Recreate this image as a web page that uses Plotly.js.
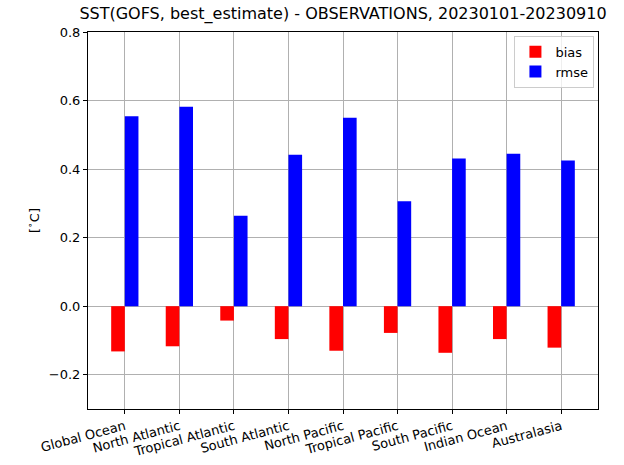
<!DOCTYPE html>
<html>
<head>
<meta charset="utf-8">
<script src="https://cdn.plot.ly/plotly-3.0.1.min.js"></script>
<style>html,body{margin:0;padding:0;background:#fff;}#chart{width:624px;height:465px;}</style>
</head>
<body>
<div id="chart"></div>
<script>
const regions = ["Global Ocean","North Atlantic","Tropical Atlantic","South Atlantic","North Pacific","Tropical Pacific","South Pacific","Indian Ocean","Australasia"];
const bias = [-0.132,-0.117,-0.042,-0.096,-0.130,-0.078,-0.136,-0.096,-0.121];
const rmse = [0.554,0.582,0.264,0.442,0.550,0.306,0.431,0.445,0.425];
const yTicks = [-0.2,0.0,0.2,0.4,0.6,0.8];
const yTickText = ["\u22120.2","0.0","0.2","0.4","0.6","0.8"];
const titleText = "SST(GOFS, best_estimate) - OBSERVATIONS, 20230101-20230910";

const xs = regions.map((_, i) => i);
const font = "DejaVu Sans, sans-serif";

const traces = [
  {type:"bar", name:"bias", x:xs, y:bias, width:0.25, offset:-0.25, marker:{color:"#ff0000", line:{width:0}}},
  {type:"bar", name:"rmse", x:xs, y:rmse, width:0.25, offset:0, marker:{color:"#0000ff", line:{width:0}}}
];

const layout = {
  width:624, height:465,
  margin:{l:88, r:26, t:32, b:56},
  paper_bgcolor:"#ffffff", plot_bgcolor:"#ffffff",
  font:{family:font, size:13, color:"#262626"},
  title:{text:titleText, font:{family:font, size:16, color:"#000"}, x:0.5, xref:"paper", xanchor:"center", y:1, yref:"container", yanchor:"top", pad:{t:8}},
  barmode:"overlay",
  showlegend:true,
  legend:{x:0.993, y:0.99, xanchor:"right", yanchor:"top", bgcolor:"rgba(255,255,255,0.8)", bordercolor:"#cccccc", borderwidth:1, font:{family:font, size:13, color:"#000"}, tracegroupgap:2},
  xaxis:{
    range:[-0.675, 8.675], tickmode:"array", tickvals:xs, ticktext:regions, tickangle:-15,
    showgrid:true, gridcolor:"#b0b0b0", gridwidth:1, zeroline:false,
    showline:true, linecolor:"#000", linewidth:1, mirror:true,
    ticks:"outside", ticklen:4, tickcolor:"#000",
    tickfont:{family:font, size:13, color:"#000"}
  },
  yaxis:{
    range:[-0.3, 0.8], tickmode:"array", tickvals:yTicks, ticktext:yTickText,
    showgrid:true, gridcolor:"#b0b0b0", gridwidth:1, zeroline:false,
    showline:true, linecolor:"#000", linewidth:1, mirror:true,
    ticks:"outside", ticklen:4, tickcolor:"#000",
    tickfont:{family:font, size:13, color:"#000"},
    title:{text:"[<sup>\u2218</sup>C]", font:{family:font, size:13, color:"#000"}, standoff:6}
  }
};

Plotly.newPlot("chart", traces, layout, {displayModeBar:false, staticPlot:true});
</script>
</body>
</html>
